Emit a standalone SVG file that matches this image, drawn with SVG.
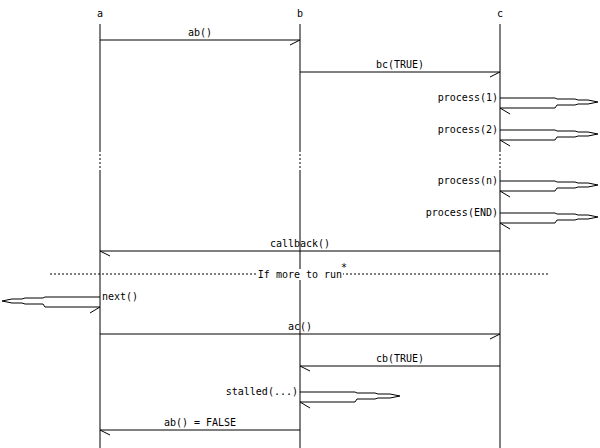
<svg xmlns="http://www.w3.org/2000/svg" width="600" height="448" viewBox="0 0 600 448">
<style>
text{font-family:"DejaVu Sans Mono","Liberation Mono",monospace;font-size:10px;fill:#000}
.m{text-anchor:middle}.r{text-anchor:end}
line,path{stroke:#000;stroke-width:1;fill:none}
.d{stroke-dasharray:2,2}
</style>
<rect width="600" height="448" fill="#fff"/>
<g id="a"><text class="m" x="100" y="17">a</text><line x1="100" y1="24" x2="100" y2="150"/><line class="d" x1="100" y1="150" x2="100" y2="170"/><line x1="100" y1="170" x2="100" y2="448"/></g>
<g id="b"><text class="m" x="300" y="17">b</text><line x1="300" y1="24" x2="300" y2="150"/><line class="d" x1="300" y1="150" x2="300" y2="170"/><line x1="300" y1="170" x2="300" y2="448"/></g>
<g id="c"><text class="m" x="500" y="17">c</text><line x1="500" y1="24" x2="500" y2="150"/><line class="d" x1="500" y1="150" x2="500" y2="170"/><line x1="500" y1="170" x2="500" y2="448"/></g>
<g id="connectors">
<line x1="100" y1="40" x2="300" y2="40"/><path d="M300,40 L290,45"/><text class="m" x="200" y="36">ab()</text>
<line x1="300" y1="72" x2="500" y2="72"/><path d="M500,72 L490,77"/><text class="m" x="400" y="68">bc(TRUE)</text>
<path d="M500,98 H555 L557,99 H575 L578,100 H588 L598,102 L588,104 H578 L575,105 H557 L555,108 H500 M500,108 L510,114"/><text class="r" x="498" y="101">process(1)</text>
<path d="M500,130 H555 L557,131 H575 L578,132 H588 L598,134 L588,136 H578 L575,137 H557 L555,140 H500 M500,140 L510,146"/><text class="r" x="498" y="133">process(2)</text>
<path d="M500,181 H555 L557,182 H575 L578,183 H588 L598,185 L588,187 H578 L575,188 H557 L555,191 H500 M500,191 L510,197"/><text class="r" x="498" y="184">process(n)</text>
<path d="M500,213 H555 L557,214 H575 L578,215 H588 L598,217 L588,219 H578 L575,220 H557 L555,223 H500 M500,223 L510,229"/><text class="r" x="498" y="216">process(END)</text>
<line x1="500" y1="251" x2="100" y2="251"/><path d="M100,251 L110,256"/><text class="m" x="300" y="247">callback()</text>
<line class="d" x1="50" y1="274" x2="550" y2="274"/><rect x="257" y="269" width="86" height="11" fill="#fff"/><text class="m" x="300" y="278">If more to run</text><text x="341" y="271">*</text>
<path d="M100,297 H45 L43,298 H25 L22,299 H12 L2,301 L12,303 H22 L25,304 H43 L45,307 H100 M100,307 L90,313"/><text x="102" y="300">next()</text>
<line x1="100" y1="334" x2="500" y2="334"/><path d="M500,334 L490,339"/><text class="m" x="300" y="330">ac()</text>
<line x1="500" y1="366" x2="300" y2="366"/><path d="M300,366 L310,371"/><text class="m" x="400" y="362">cb(TRUE)</text>
<path d="M300,392 H355 L357,393 H375 L378,394 H390 L400,396 L390,398 H378 L375,399 H357 L355,402 H300 M300,402 L310,408"/><text class="r" x="298" y="395">stalled(...)</text>
<line x1="300" y1="430" x2="100" y2="430"/><path d="M100,430 L110,435"/><text class="m" x="200" y="426">ab() = FALSE</text>
</g>
</svg>
